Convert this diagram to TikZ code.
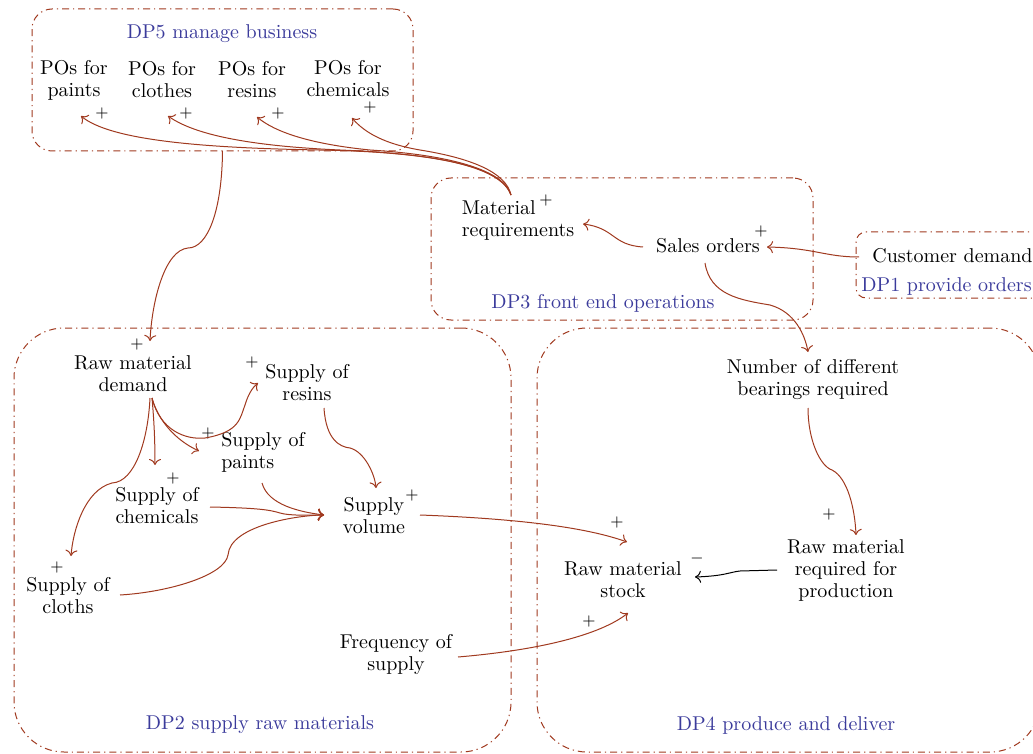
\documentclass[tikz,border=0pt]{standalone}
\usetikzlibrary{arrows.meta}
\definecolor{arrred}{HTML}{A0391F}
\definecolor{lblblue}{HTML}{3B3B9B}
\begin{document}
\begin{tikzpicture}[x=0.5pt,y=-0.5pt,
  txt/.style={font=\fontsize{10}{11}\selectfont, align=center, inner sep=1pt},
  lbl/.style={font=\fontsize{10}{11}\selectfont, text=lblblue, inner sep=1pt},
  sgn/.style={font=\fontsize{8}{9}\selectfont, inner sep=0pt},
  grp/.style={draw=arrred, line width=0.5pt, dash pattern=on 3.5pt off 2pt on 0.6pt off 2pt, inner sep=0pt, outer sep=0pt},
  arr/.style={draw=arrred, line width=0.5pt, -{To[length=3pt,width=6pt]}},
  narr/.style={draw=black, line width=0.5pt, -{To[length=3pt,width=6pt]}}]
\useasboundingbox (0,0) rectangle (1033,754);
% group boxes
\node[grp, rounded corners=10pt, minimum width=190.5pt, minimum height=71pt] (dp5) at (222.5,80) {};
\node[grp, rounded corners=10pt, minimum width=191pt, minimum height=71pt] (dp3) at (622,249) {};
\node[grp, rounded corners=5pt, minimum width=97pt, minimum height=33pt] (dp1) at (953,265) {};
\node[grp, rounded corners=25pt, minimum width=248.5pt, minimum height=212pt] (dp2) at (262.5,540) {};
\node[grp, rounded corners=25pt, minimum width=251.5pt, minimum height=212pt] (dp4) at (788.5,540) {};
% group labels
\node[lbl] (dp5lbl) at (222,34) {DP5 manage business};
\node[lbl] (dp3lbl) at (603,303) {DP3 front end operations};
\node[lbl, anchor=west] (dp1lbl) at (859,287) {DP1 provide orders};
\node[lbl] (dp2lbl) at (260,725) {DP2 supply raw materials};
\node[lbl] (dp4lbl) at (786,725) {DP4 produce and deliver};
% variables
\node[txt] (po1) at (74,80) {POs for\\paints};
\node[txt] (po2) at (162,80) {POs for\\clothes};
\node[txt] (po3) at (252,80) {POs for\\resins};
\node[txt] (po4) at (348,79) {POs for\\chemicals};
\node[txt, align=left] (mr) at (518,221) {Material\\requirements};
\node[txt] (so) at (708,246) {Sales orders};
\node[txt, anchor=west] (cd) at (870,256) {Customer demand};
\node[txt] (rmd) at (133,374) {Raw material\\demand};
\node[txt] (sr) at (307,383) {Supply of\\resins};
\node[txt, align=left] (sp) at (263,452) {Supply of\\paints};
\node[txt] (sc) at (157,506) {Supply of\\chemicals};
\node[txt] (scl) at (68,596) {Supply of\\cloths};
\node[txt] (sv) at (374,516) {Supply\\volume};
\node[txt] (fs) at (396,654) {Frequency of\\supply};
\node[txt] (rms) at (623,580) {Raw material\\stock};
\node[txt] (rmrp) at (846,570) {Raw material\\required for\\production};
\node[txt] (ndb) at (813,380) {Number of different\\bearings required};
% polarity signs
\node[sgn] (s1) at (102,114) {+};
\node[sgn] (s2) at (186,114) {+};
\node[sgn] (s3) at (278,114) {+};
\node[sgn] (s4) at (370,108) {+};
\node[sgn] (s5) at (546,201) {+};
\node[sgn] (s6) at (761,232) {+};
\node[sgn] (s7) at (137,344) {+};
\node[sgn] (s8) at (252,362) {+};
\node[sgn] (s9) at (208,433) {+};
\node[sgn] (s10) at (173,478) {+};
\node[sgn] (s11) at (57,567) {+};
\node[sgn] (s12) at (412,495) {+};
\node[sgn] (s13) at (617,522) {+};
\node[sgn] (s14) at (589,621) {+};
\node[sgn] (s15) at (829,514) {+};
\node[sgn] (s16) at (697,558) {$-$};
% connectors
\draw[arr] ([shift={(-7,-26)}]mr.center) .. controls (500,165) and (430,152) .. (320,150) .. controls (200,148) and (110,140) .. ([shift={(7,36)}]po1.center);
\draw[arr] ([shift={(-7,-26)}]mr.center) .. controls (502,167) and (440,154) .. (340,150) .. controls (250,146) and (195,135) .. ([shift={(6,36)}]po2.center);
\draw[arr] ([shift={(-7,-26)}]mr.center) .. controls (504,170) and (450,155) .. (370,150) .. controls (310,144) and (275,132) .. ([shift={(5,37)}]po3.center);
\draw[arr] ([shift={(-7,-26)}]mr.center) .. controls (506,172) and (470,158) .. (420,150) .. controls (385,144) and (365,133) .. ([shift={(4,39)}]po4.center);
\draw[arr] (dp5.south) .. controls (222,210) and (208,248) .. (188,248) .. controls (165,250) and (152,300) .. ([shift={(17,-33)}]rmd.center);
\draw[arr] ([shift={(-11,1)}]cd.west) .. controls (825,257) and (815,248) .. ([shift={(59,1)}]so.center);
\draw[arr] ([shift={(-65,1)}]so.center) .. controls (612,245) and (615,228) .. ([shift={(65,3)}]mr.center);
\draw[arr] ([shift={(-3,17)}]so.center) .. controls (710,295) and (740,300) .. (770,305) .. controls (795,312) and (805,335) .. ([shift={(-5,-28)}]ndb.center);
\draw[arr] ([shift={(19,24)}]rmd.center) .. controls (160,430) and (185,440) .. (205,438) .. controls (240,432) and (240,418) .. (245,405) .. controls (248,395) and (252,388) .. ([shift={(-49,0)}]sr.center);
\draw[arr] ([shift={(19,24)}]rmd.center) .. controls (158,420) and (175,440) .. ([shift={(-64,-1)}]sp.center);
\draw[arr] ([shift={(19,24)}]rmd.center) .. controls (154,420) and (155,440) .. ([shift={(-2,-41)}]sc.center);
\draw[arr] ([shift={(17,24)}]rmd.center) .. controls (148,440) and (135,482) .. (112,483) .. controls (85,490) and (73,530) .. ([shift={(3,-40)}]scl.center);
\draw[arr] ([shift={(17,25)}]sr.center) .. controls (326,440) and (340,447) .. (350,448) .. controls (365,452) and (375,475) .. ([shift={(2,-28)}]sv.center);
\draw[arr] ([shift={(-1,31)}]sp.center) .. controls (268,505) and (300,512) .. ([shift={(-50,-1)}]sv.center);
\draw[arr] ([shift={(53,1)}]sc.center) .. controls (260,508) and (270,510) .. (280,513) .. controls (290,516) and (310,515) .. ([shift={(-50,-1)}]sv.center);
\draw[arr] ([shift={(52,-1)}]scl.center) .. controls (170,592) and (225,575) .. (228,555) .. controls (230,525) and (300,515) .. ([shift={(-50,-1)}]sv.center);
\draw[arr] ([shift={(46,-1)}]sv.center) .. controls (500,518) and (580,525) .. ([shift={(4,-38)}]rms.center);
\draw[arr] ([shift={(62,3)}]fs.center) .. controls (540,650) and (600,635) .. ([shift={(5,33)}]rms.center);
\draw[narr] ([shift={(-69,0)}]rmrp.center) -- (740,571) .. controls (730,572) and (725,576) .. ([shift={(72,-3)}]rms.center);
\draw[arr] ([shift={(-5,28)}]ndb.center) .. controls (808,440) and (820,466) .. (832,470) .. controls (848,478) and (855,510) .. ([shift={(10,-35)}]rmrp.center);
\end{tikzpicture}
\end{document}
